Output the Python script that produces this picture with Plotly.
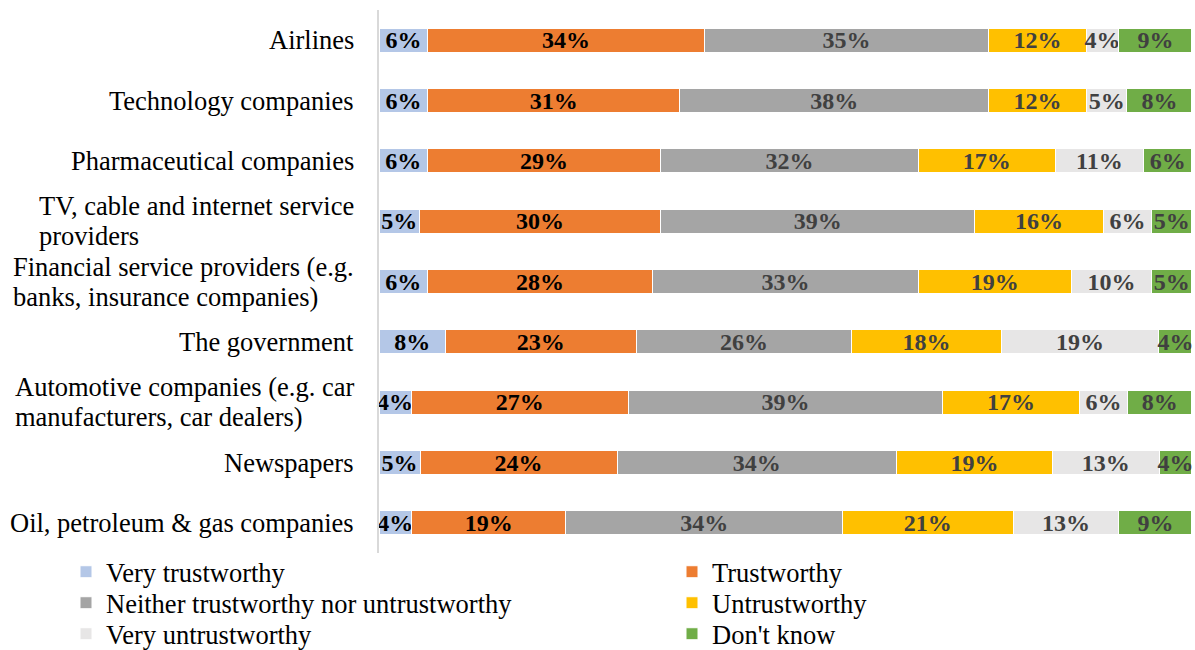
import plotly.graph_objects as go

categories = [
    "Airlines",
    "Technology companies",
    "Pharmaceutical companies",
    "TV, cable and internet service<br>providers",
    "Financial service providers (e.g.<br>banks, insurance companies)",
    "The government",
    "Automotive companies (e.g. car<br>manufacturers, car dealers)",
    "Newspapers",
    "Oil, petroleum & gas companies",
]

very_trustworthy = [6, 6, 6, 5, 6, 8, 4, 5, 4]
trustworthy = [34, 31, 29, 30, 28, 23, 27, 24, 19]
neither = [35, 38, 32, 39, 33, 26, 39, 34, 34]
untrustworthy = [12, 12, 17, 16, 19, 18, 17, 19, 21]
very_untrustworthy = [4, 5, 11, 6, 10, 19, 6, 13, 13]
dont_know = [9, 8, 6, 5, 5, 4, 8, 4, 9]

series_names = ["Very trustworthy", "Trustworthy",
                "Neither trustworthy nor untrustworthy", "Untrustworthy",
                "Very untrustworthy", "Don't know"]
series_values = [very_trustworthy, trustworthy, neither, untrustworthy,
                 very_untrustworthy, dont_know]
colors = ["#B4C7E7", "#ED7D31", "#A5A5A5", "#FFC000", "#E7E6E6", "#70AD47"]
text_colors = ["#000000", "#000000", "#404040", "#404040", "#404040", "#404040"]

FONT = "Liberation Serif"
LABEL_SIZE = 26.5
BAR_TEXT_SIZE = 24

fig = go.Figure()
legend_ids = ["legend", "legend2", "legend3", "legend4", "legend5", "legend6"]
for i, (name, vals) in enumerate(zip(series_names, series_values)):
    fig.add_trace(go.Bar(
        y=categories, x=vals, name=name, orientation="h",
        marker=dict(color=colors[i], line=dict(color="white", width=1)),
        text=[f"{v}%" for v in vals],
        textposition="inside", insidetextanchor="middle", textangle=0,
        constraintext="none",
        textfont=dict(family=FONT, size=BAR_TEXT_SIZE, color=text_colors[i], weight="bold"),
        cliponaxis=False, hoverinfo="skip", legend=legend_ids[i],
    ))

for c in categories:
    lines = c.split("<br>")
    html = "<br>".join(f"<span style='font-size:{LABEL_SIZE}px'>{ln}</span>" for ln in lines)
    fig.add_annotation(
        x=0, xref="paper", y=c, yref="y", text=html, showarrow=False,
        xanchor="right", yanchor="middle", align="left", xshift=-23,
        font=dict(family=FONT, size=23, color="#000000"),
    )

# legend placement: two columns x three rows
plot_left, plot_w, plot_bottom, plot_h = 379, 813, 553, 543
col_px = [66, 672]
row_px = [572, 603, 634]
legend_layout = {}
for i, lid in enumerate(legend_ids):
    col, row = i % 2, i // 2
    legend_layout[lid] = dict(
        x=(col_px[col] - plot_left) / plot_w, xanchor="left",
        y=(plot_bottom - row_px[row]) / plot_h, yanchor="middle",
        orientation="v", bgcolor="rgba(0,0,0,0)", borderwidth=0,
        font=dict(family=FONT, size=LABEL_SIZE, color="#000000"),
    )

fig.update_layout(
    width=1195, height=650,
    barmode="stack", barnorm="percent", bargap=0.6,
    plot_bgcolor="white", paper_bgcolor="white",
    margin=dict(l=379, r=3, t=10, b=97, autoexpand=False),
    font=dict(family=FONT, size=LABEL_SIZE, color="#000000"),
    xaxis=dict(visible=False, range=[0, 100.001], fixedrange=True),
    yaxis=dict(autorange="reversed", showticklabels=False, showgrid=False,
               showline=True, linecolor="#D9D9D9", linewidth=2, ticks="",
               fixedrange=True),
    showlegend=True,
    **legend_layout,
)

fig.write_html(
    "out.html",
    config={"displayModeBar": False},
    post_script="document.body.style.margin='0';document.body.style.overflow='hidden';",
)
